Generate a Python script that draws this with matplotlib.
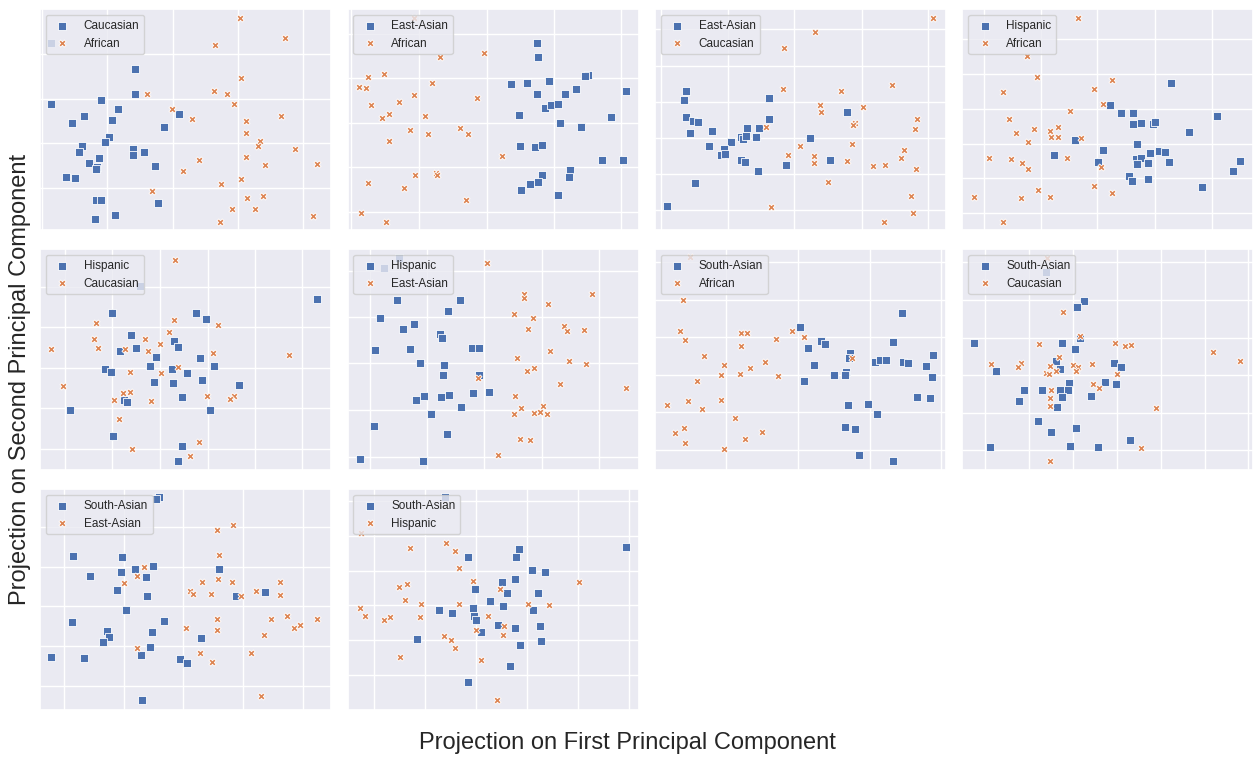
import numpy as np
import matplotlib
matplotlib.use("Agg")
import matplotlib.pyplot as plt
import seaborn as sns

sns.set_theme(style="darkgrid")
plt.rcParams['font.family'] = ['Liberation Sans', 'DejaVu Sans']

# group names shown in each panel (first = blue squares, second = orange x)
labels = [("Caucasian", "African"), ("East-Asian", "African"), ("East-Asian", "Caucasian"),
          ("Hispanic", "African"), ("Hispanic", "Caucasian"), ("Hispanic", "East-Asian"),
          ("South-Asian", "African"), ("South-Asian", "Caucasian"), ("South-Asian", "East-Asian"),
          ("South-Asian", "Hispanic")]

# projections (first PC, second PC)
p1_a = [(2.92, 4.95), (2.93, 4.19), (0.40, 3.91), (1.90, 4.02), (2.41, 3.76), (1.40, 3.55), (1.02, 3.32),
        (2.23, 3.41), (4.24, 3.59), (3.78, 3.21), (2.15, 2.90), (2.02, 2.76), (1.33, 2.63), (1.25, 2.47),
        (2.85, 2.54), (2.87, 2.38), (3.20, 2.47), (1.85, 2.28), (1.55, 2.13), (1.77, 2.01), (1.76, 1.94),
        (3.51, 2.05), (0.86, 1.72), (1.12, 1.67), (1.75, 1.01), (1.90, 1.01), (3.62, 0.92), (1.73, 0.46),
        (2.33, 0.58), (0.40, 5.72)]
p1_b = [(6.07, 6.47), (7.41, 5.89), (5.33, 5.67), (6.10, 4.68), (5.29, 4.30), (5.69, 4.19), (3.28, 4.19),
        (5.88, 3.90), (4.03, 3.76), (4.63, 3.44), (7.30, 3.53), (6.24, 3.40), (6.26, 3.04), (6.68, 2.79),
        (6.62, 2.63), (7.71, 2.54), (6.24, 2.32), (4.83, 2.23), (6.81, 2.07), (8.38, 2.10), (4.36, 1.90),
        (6.10, 1.65), (5.50, 1.49), (3.43, 1.28), (6.27, 1.07), (6.77, 1.13), (5.83, 0.74), (6.52, 0.74),
        (8.27, 0.53), (5.47, 0.37)]

p2_a = [(5.76, 5.74), (5.77, 5.32), (7.28, 4.77), (7.19, 4.74), (4.96, 4.51), (5.46, 4.54), (6.12, 4.60),
        (6.91, 4.36), (5.74, 4.21), (6.58, 4.20), (8.41, 4.28), (5.98, 3.79), (6.17, 3.86), (6.37, 3.89),
        (5.22, 3.56), (7.98, 3.50), (6.45, 3.33), (7.06, 3.20), (5.23, 2.65), (5.70, 2.60), (5.90, 2.66),
        (7.71, 2.21), (8.32, 2.23), (6.75, 1.92), (6.70, 1.72), (5.89, 1.78), (5.53, 1.50), (5.77, 1.55),
        (5.27, 1.32), (6.39, 1.16)]
p2_b = [(2.07, 6.47), (2.83, 5.32), (4.17, 5.42), (0.67, 4.71), (1.15, 4.81), (0.42, 4.40), (0.62, 4.37),
        (2.61, 4.52), (2.05, 4.16), (3.94, 4.08), (0.78, 3.88), (1.61, 3.95), (1.31, 3.59), (1.10, 3.47),
        (2.39, 3.54), (1.93, 3.11), (2.48, 2.99), (3.43, 3.18), (3.68, 3.00), (1.30, 2.80), (4.70, 2.35),
        (2.10, 1.77), (2.72, 1.84), (2.74, 1.78), (0.69, 1.53), (1.77, 1.37), (3.63, 1.03), (0.48, 0.64),
        (1.22, 0.36)]

p3_a = [(1.01, 4.28), (0.95, 4.03), (3.50, 4.07), (1.00, 3.50), (1.21, 3.39), (1.35, 3.37), (1.12, 3.02),
        (1.79, 3.09), (3.50, 3.44), (5.82, 3.67), (2.84, 3.19), (3.18, 3.18), (2.66, 2.91), (2.72, 2.86),
        (2.81, 2.95), (3.11, 2.92), (2.35, 2.77), (1.70, 2.63), (2.14, 2.55), (2.04, 2.37), (2.16, 2.40),
        (4.72, 2.88), (2.66, 2.22), (2.76, 2.17), (5.33, 2.22), (4.01, 2.07), (3.15, 1.88), (1.27, 1.53),
        (0.42, 0.85)]
p3_b = [(8.40, 6.47), (4.87, 6.06), (3.94, 5.58), (3.92, 4.36), (5.66, 4.28), (7.19, 4.47), (5.03, 3.87),
        (5.06, 3.66), (6.30, 3.82), (7.94, 3.44), (6.08, 3.34), (6.00, 3.26), (7.87, 3.15), (3.39, 3.20),
        (4.42, 2.65), (5.99, 2.70), (7.53, 2.52), (4.05, 2.36), (4.84, 2.33), (4.84, 2.12), (5.82, 2.18),
        (7.44, 2.29), (6.62, 2.04), (6.98, 2.08), (7.91, 1.95), (5.25, 1.55), (7.76, 1.15), (3.54, 0.80),
        (7.81, 0.63), (6.95, 0.37)]

p4_a = [(6.33, 4.52), (4.49, 3.86), (4.83, 3.63), (5.20, 3.62), (5.20, 3.30), (5.44, 3.32), (5.78, 3.31),
        (5.85, 3.35), (7.71, 3.55), (6.86, 3.06), (3.45, 2.82), (5.32, 2.71), (4.28, 2.53), (2.83, 2.36),
        (5.71, 2.42), (5.97, 2.48), (6.16, 2.47), (6.28, 2.16), (5.29, 2.26), (5.44, 2.29), (5.30, 2.09),
        (5.64, 2.12), (4.14, 2.16), (8.40, 2.18), (8.18, 1.89), (5.07, 1.73), (5.16, 1.59), (5.63, 1.65),
        (7.26, 1.42)]
p4_b = [(3.54, 6.47), (2.00, 5.34), (2.31, 4.72), (4.57, 4.63), (1.30, 4.26), (4.01, 4.35), (4.30, 3.90),
        (3.30, 3.68), (1.48, 3.44), (1.69, 3.04), (2.23, 3.14), (2.93, 3.20), (2.71, 3.09), (2.74, 2.90),
        (2.95, 2.90), (2.05, 2.77), (3.64, 2.88), (0.87, 2.28), (1.52, 2.25), (1.87, 2.12), (3.21, 2.29),
        (2.05, 1.94), (4.23, 2.00), (2.34, 1.32), (4.01, 1.43), (4.55, 1.24), (0.43, 1.11), (1.82, 1.09),
        (2.69, 1.12), (1.28, 0.37)]

p5_a = [(3.08, 5.64), (8.38, 5.24), (2.24, 4.84), (4.76, 4.84), (5.05, 4.64), (2.80, 4.18), (4.08, 3.98),
        (4.22, 3.81), (2.96, 3.78), (2.47, 3.70), (3.54, 3.50), (4.87, 3.48), (5.29, 3.23), (3.36, 3.23),
        (4.02, 3.14), (2.02, 3.15), (2.20, 3.06), (4.49, 3.03), (3.49, 2.76), (4.05, 2.73), (4.93, 2.83),
        (6.04, 2.68), (4.33, 2.31), (2.58, 2.21), (2.67, 2.17), (0.98, 1.91), (5.16, 1.92), (2.26, 1.14),
        (4.32, 0.83), (4.22, 0.39)]
p5_b = [(4.13, 6.42), (4.10, 4.61), (1.75, 4.54), (5.41, 4.47), (3.93, 4.25), (1.70, 4.06), (3.21, 4.06),
        (3.67, 3.91), (1.82, 3.79), (2.62, 3.75), (3.30, 3.68), (0.40, 3.76), (5.27, 3.64), (7.54, 3.57),
        (4.22, 3.21), (2.77, 3.05), (3.71, 3.02), (0.77, 2.63), (2.78, 2.46), (2.57, 2.42), (2.30, 2.21),
        (3.39, 2.19), (5.08, 2.34), (5.88, 2.33), (5.76, 2.25), (2.43, 1.65), (4.85, 0.95), (2.84, 0.76),
        (4.58, 0.53)]

p6_a = [(1.62, 6.47), (1.15, 6.17), (1.55, 5.22), (3.43, 5.22), (3.09, 4.88), (1.04, 4.67), (2.05, 4.51),
        (1.72, 4.35), (2.84, 4.20), (2.89, 4.08), (0.88, 3.71), (1.94, 3.74), (3.79, 3.79), (4.01, 3.77),
        (2.24, 3.34), (2.95, 3.26), (2.94, 2.97), (4.01, 2.98), (3.82, 2.43), (4.32, 2.45), (2.12, 2.23),
        (2.37, 2.33), (2.88, 2.31), (3.10, 2.38), (3.46, 2.00), (2.56, 1.81), (0.87, 1.45), (3.05, 1.21),
        (0.43, 0.44), (2.32, 0.39)]
p6_b = [(4.24, 6.33), (5.35, 5.40), (5.35, 5.27), (7.39, 5.41), (6.09, 5.11), (5.05, 4.79), (5.63, 4.68),
        (5.47, 4.36), (6.55, 4.45), (6.64, 4.30), (7.16, 4.33), (6.13, 3.68), (5.16, 3.49), (6.72, 3.38),
        (7.22, 3.29), (5.44, 3.09), (5.65, 3.18), (3.97, 2.87), (6.43, 2.70), (8.41, 2.59), (5.09, 2.35),
        (5.93, 2.04), (5.28, 1.99), (5.06, 1.79), (5.67, 1.83), (5.83, 1.86), (6.04, 1.79), (5.23, 1.04),
        (5.55, 1.03), (4.57, 0.57)]

p7_a = [(7.47, 4.83), (4.43, 4.42), (7.20, 3.95), (5.05, 3.99), (5.18, 3.89), (4.66, 3.79), (8.40, 3.58),
        (5.91, 3.62), (5.90, 3.47), (4.85, 3.28), (6.68, 3.36), (6.83, 3.42), (7.00, 3.42), (7.50, 3.35),
        (7.67, 3.32), (8.20, 3.24), (5.80, 3.07), (5.44, 2.98), (5.76, 2.98), (8.38, 2.91), (4.54, 2.79),
        (7.94, 2.31), (8.31, 2.27), (6.46, 2.11), (5.86, 2.06), (6.73, 1.80), (5.78, 1.40), (6.06, 1.34),
        (6.20, 0.56), (7.21, 0.39)]
p7_b = [(1.12, 6.50), (0.92, 5.22), (0.81, 4.29), (0.97, 4.01), (2.65, 4.24), (2.84, 4.24), (4.18, 4.30),
        (4.53, 4.12), (3.71, 4.05), (2.64, 3.85), (1.53, 3.55), (5.99, 3.49), (3.37, 3.35), (2.13, 3.27),
        (2.92, 3.18), (2.05, 2.97), (2.61, 3.00), (3.76, 2.93), (1.32, 2.79), (1.05, 2.19), (2.04, 2.22),
        (0.43, 2.06), (1.47, 1.94), (2.47, 1.68), (0.95, 1.37), (0.66, 1.22), (3.27, 1.27), (2.78, 1.04),
        (0.96, 0.92), (2.15, 0.75)]

p8_a = [(2.58, 6.07), (3.73, 5.20), (3.50, 5.02), (0.42, 3.94), (3.05, 3.93), (3.45, 3.75), (2.87, 3.38),
        (3.00, 3.16), (4.61, 3.34), (4.82, 3.20), (1.07, 3.08), (3.26, 2.72), (4.35, 2.76), (4.69, 2.69),
        (1.91, 2.53), (2.47, 2.52), (3.01, 2.53), (3.23, 2.53), (3.05, 2.30), (3.94, 2.35), (1.76, 2.18),
        (2.90, 2.01), (2.34, 1.60), (3.48, 1.37), (2.72, 1.27), (5.11, 1.03), (0.90, 0.80), (3.31, 0.84),
        (4.15, 0.82), (3.60, 4.07)]
p8_b = [(2.60, 6.47), (3.08, 4.85), (3.59, 4.14), (2.36, 3.89), (4.65, 3.93), (4.95, 3.84), (5.12, 3.88),
        (2.98, 3.51), (7.60, 3.66), (8.40, 3.40), (0.94, 3.31), (1.82, 3.33), (1.74, 3.20), (2.71, 3.25),
        (3.39, 3.27), (3.54, 3.20), (3.48, 3.09), (3.97, 3.30), (2.57, 3.04), (2.68, 3.01), (2.87, 3.08),
        (4.71, 2.99), (3.98, 2.71), (4.18, 2.59), (2.72, 2.51), (2.71, 2.28), (2.70, 2.05), (5.87, 1.97),
        (5.43, 0.78), (2.70, 0.39)]

p9_a = [(3.65, 6.51), (3.56, 6.46), (1.06, 4.73), (2.53, 4.72), (2.91, 4.35), (3.47, 4.44), (2.49, 4.27),
        (1.57, 4.13), (3.25, 4.11), (5.44, 4.35), (2.39, 3.72), (3.27, 3.54), (5.96, 3.54), (6.82, 3.67),
        (2.65, 3.13), (1.03, 2.75), (3.79, 2.79), (2.08, 2.48), (2.14, 2.32), (3.43, 2.45), (1.97, 2.17),
        (4.91, 2.27), (3.36, 2.01), (3.10, 1.78), (0.40, 1.70), (1.39, 1.68), (4.28, 1.65), (4.49, 1.53),
        (3.12, 0.42)]
p9_b = [(5.85, 5.68), (5.38, 5.51), (5.44, 4.76), (3.20, 4.40), (2.98, 4.15), (2.58, 3.92), (4.94, 3.97),
        (5.41, 4.06), (5.84, 3.95), (7.28, 3.95), (4.58, 3.69), (4.67, 3.60), (5.20, 3.60), (6.10, 3.55),
        (6.56, 3.70), (7.28, 3.56), (5.38, 2.86), (7.00, 2.84), (7.47, 2.95), (7.68, 2.58), (7.86, 2.68),
        (8.38, 2.84), (4.45, 2.58), (5.38, 2.52), (6.80, 2.37), (2.99, 1.97), (4.87, 1.83), (5.24, 1.56),
        (6.41, 1.82), (6.69, 0.55)]

p10_a = [(3.00, 6.51), (5.22, 4.95), (8.41, 5.01), (3.67, 4.71), (5.12, 4.71), (5.60, 4.33), (5.99, 4.26),
         (5.10, 4.06), (4.69, 3.95), (3.88, 3.74), (4.85, 3.64), (5.77, 3.62), (4.33, 3.39), (4.72, 3.23),
         (3.82, 3.19), (5.63, 3.13), (2.82, 3.13), (3.19, 3.04), (3.87, 2.93), (3.91, 2.82), (4.58, 2.66),
         (5.08, 2.58), (5.83, 2.65), (4.07, 2.45), (5.88, 2.19), (2.16, 2.26), (5.23, 2.06), (4.94, 1.44),
         (3.67, 0.97)]
p10_b = [(0.46, 5.42), (1.93, 4.99), (3.03, 5.13), (3.30, 4.88), (3.40, 4.37), (3.84, 3.98), (4.63, 3.75),
         (1.60, 3.81), (1.86, 3.91), (1.80, 3.43), (2.27, 3.30), (3.41, 3.30), (5.49, 3.30), (6.11, 3.27),
         (7.00, 3.97), (0.43, 3.17), (0.58, 2.95), (1.17, 2.82), (1.33, 2.91), (2.24, 2.91), (4.28, 2.93),
         (4.76, 2.64), (3.93, 2.53), (4.72, 2.37), (2.96, 2.35), (3.17, 2.23), (3.28, 1.97), (1.63, 1.70),
         (4.08, 1.63), (4.56, 0.41)]

panels = [(p1_a, p1_b), (p2_a, p2_b), (p3_a, p3_b), (p4_a, p4_b), (p5_a, p5_b),
          (p6_a, p6_b), (p7_a, p7_b), (p8_a, p8_b), (p9_a, p9_b), (p10_a, p10_b)]

# grid line positions of each panel
grid_x = [[0.12, 2.08, 4.05, 6.00, 7.97], [0.17, 2.20, 4.25, 6.27, 8.28], [0.25, 2.27, 4.25, 6.27, 8.26],
          [0.72, 2.42, 4.12, 5.84, 7.55], [0.82, 2.22, 3.67, 5.10, 6.52, 7.93], [0.73, 2.45, 4.17, 5.89, 7.61],
          [2.20, 4.36, 6.53, 8.66], [0.75, 2.07, 3.40, 4.70, 6.02, 7.35, 8.64], [0.80, 2.58, 4.37, 6.17, 7.97],
          [0.87, 2.39, 3.91, 5.45, 6.98, 8.50]]
grid_y = [[5.39, 4.06, 2.72, 1.39], [5.99, 4.67, 3.34, 2.00, 0.67], [6.14, 5.04, 3.96, 2.88, 1.79, 0.72],
          [5.86, 4.81, 3.76, 2.71, 1.67, 0.64], [5.62, 4.41, 3.19, 1.97, 0.75], [6.09, 4.71, 3.32, 1.92, 0.51],
          [6.36, 5.22, 4.11, 2.98, 1.85, 0.72], [6.36, 5.22, 4.09, 2.97, 1.84, 0.72],
          [5.61, 4.42, 3.23, 2.03, 0.85], [6.39, 5.34, 4.30, 3.26, 2.22, 1.18]]

blue = '#4C72B0'
orange = '#DD8452'

fig, axes = plt.subplots(3, 4, figsize=(12.54, 7.59), dpi=100)
fig.subplots_adjust(left=0.0319, right=0.9996, top=0.9881, bottom=0.0646, wspace=0.0567, hspace=0.086)
axes = axes.flatten()

for i, ax in enumerate(axes):
    if i >= len(panels):
        ax.axis('off')
        continue
    a, b = panels[i]
    a = np.array(a)
    b = np.array(b)
    ax.scatter(a[:, 0], a[:, 1], marker='s', s=27, color=blue, edgecolor='white', linewidth=0.6,
               label=labels[i][0])
    ax.scatter(b[:, 0], b[:, 1], marker='X', s=26, color=orange, edgecolor='white', linewidth=0.6,
               label=labels[i][1])
    ax.set_xlim(0.07, 8.80)
    ax.set_ylim(0.12, 6.75)
    ax.set_xticks(grid_x[i])
    ax.set_yticks(grid_y[i])
    ax.tick_params(labelbottom=False, labelleft=False, length=0)
    ax.legend(loc='upper left', fontsize=8.5)

fig.text(0.5, 0.021, 'Projection on First Principal Component', ha='center', va='center', fontsize=17)
fig.text(0.016, 0.5, 'Projection on Second Principal Component', ha='center', va='center',
         rotation=90, fontsize=17)

fig.savefig('out.png', dpi=100)
